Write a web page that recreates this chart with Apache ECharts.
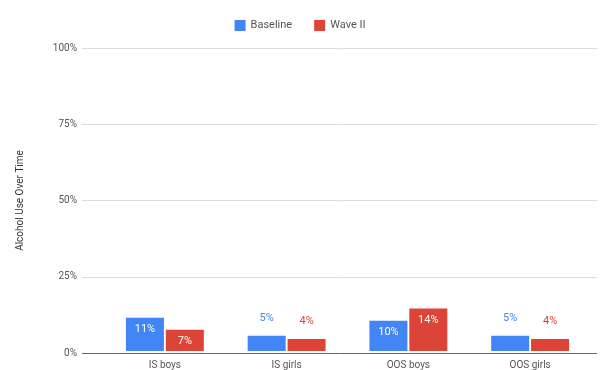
<!DOCTYPE html>
<html>
<head>
<meta charset="utf-8">
<script src="https://cdn.jsdelivr.net/npm/echarts@6/dist/echarts.min.js"></script>
<style>
  html, body { margin: 0; padding: 0; background: #fff; }
  #chart { width: 600px; height: 370px; }
</style>
</head>
<body>
<div id="chart"></div>
<script>
// Alcohol use by group, baseline vs. second wave (percent)
const categories = ['IS boys', 'IS girls', 'OOS boys', 'OOS girls'];
const baseline = [11, 5, 10, 5];
const wave2 = [7, 4, 14, 4];
const yTicks = [0, 25, 50, 75, 100];

const BLUE = '#4285f4';
const RED = '#db4437';
const FONT = 'Roboto, Arial, sans-serif';

// Large bars carry their value inside in white; short bars show it above in the series colour
function withLabels(values, color) {
  return values.map(v => ({
    value: v,
    label: v >= 7
      ? { show: true, position: 'insideTop', distance: 6, color: '#fff', fontSize: 11, fontFamily: FONT, formatter: '{c}%' }
      : { show: true, position: 'top', distance: 12, color: color, fontSize: 11, fontFamily: FONT, formatter: '{c}%' }
  }));
}

const chart = echarts.init(document.getElementById('chart'));
chart.setOption({
  animation: false,
  legend: {
    top: 15,
    left: 'center',
    itemWidth: 11,
    itemHeight: 11,
    itemGap: 22,
    icon: 'rect',
    textStyle: { color: '#555', fontSize: 11, fontFamily: FONT },
    data: ['Baseline', 'Wave II']
  },
  grid: [
    // gridlines and value labels
    { left: 82, right: 3, top: 48, bottom: 17 },
    // bars
    { left: 104, right: 9, top: 48, bottom: 17 }
  ],
  xAxis: [
    { gridIndex: 0, type: 'category', data: categories, show: false },
    {
      gridIndex: 1,
      type: 'category',
      data: categories,
      axisLine: { show: false },
      axisTick: { show: false },
      axisLabel: { color: '#555', fontSize: 10, fontFamily: FONT, margin: 9 }
    }
  ],
  yAxis: [
    {
      gridIndex: 0,
      type: 'value',
      min: yTicks[0],
      max: yTicks[yTicks.length - 1],
      interval: 25,
      name: 'Alcohol Use Over Time',
      nameLocation: 'middle',
      nameGap: 57,
      nameTextStyle: { color: '#333', fontSize: 10, fontFamily: FONT },
      axisLine: { show: false },
      axisTick: { show: false },
      axisLabel: { color: '#555', fontSize: 10, fontFamily: FONT, margin: 5, formatter: v => v + '%' },
      splitLine: {
        lineStyle: { color: '#dcdcdc', width: 1 }
      }
    },
    {
      gridIndex: 1,
      type: 'value',
      min: yTicks[0],
      max: yTicks[yTicks.length - 1],
      interval: 25,
      show: false,
      splitLine: { show: false }
    }
  ],
  series: [
    {
      name: 'Baseline',
      type: 'bar',
      xAxisIndex: 1,
      yAxisIndex: 1,
      barWidth: 38,
      barGap: '5%',
      itemStyle: { color: BLUE },
      data: withLabels(baseline, BLUE)
    },
    {
      name: 'Wave II',
      type: 'bar',
      xAxisIndex: 1,
      yAxisIndex: 1,
      barWidth: 38,
      barGap: '5%',
      itemStyle: { color: RED },
      data: withLabels(wave2, RED)
    },
    {
      // baseline rule along 0%
      type: 'line',
      xAxisIndex: 0,
      yAxisIndex: 0,
      data: [],
      markLine: {
        silent: true,
        symbol: 'none',
        label: { show: false },
        lineStyle: { color: '#666', width: 1, type: 'solid' },
        data: [{ yAxis: 0 }]
      }
    }
  ]
});
</script>
</body>
</html>
